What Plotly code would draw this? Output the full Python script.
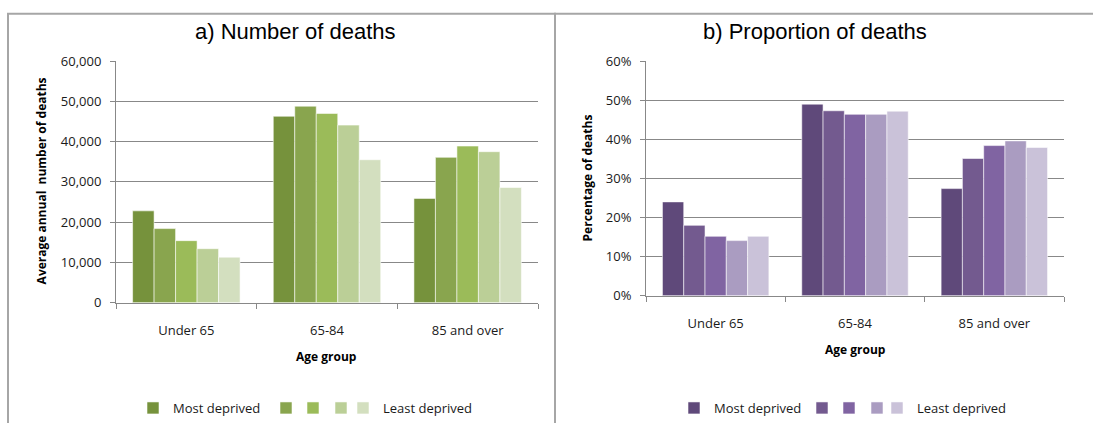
import plotly.graph_objects as go

W, H = 1093, 423

age_groups = ["Under 65", "65-84", "85 and over"]
quintile_names = ["Most deprived", "", "", "", "Least deprived"]

# a) Number of deaths (average annual), one list per deprivation quintile
deaths_q1 = [22800, 46300, 25900]
deaths_q2 = [18400, 48800, 36100]
deaths_q3 = [15400, 47000, 38900]
deaths_q4 = [13400, 44100, 37500]
deaths_q5 = [11300, 35500, 28600]

# b) Proportion of deaths (%)
pct_q1 = [24.0, 49.0, 27.4]
pct_q2 = [18.0, 47.3, 35.1]
pct_q3 = [15.2, 46.4, 38.4]
pct_q4 = [14.1, 46.4, 39.6]
pct_q5 = [15.2, 47.2, 37.9]

y1_ticks = [0, 10000, 20000, 30000, 40000, 50000, 60000]
y2_ticks = [0, 10, 20, 30, 40, 50, 60]
y2_tick_labels = ["0%", "10%", "20%", "30%", "40%", "50%", "60%"]

greens = ["#76923C", "#89A54E", "#9BBB59", "#BBCF97", "#D3DFBF"]
purples = ["#5F497A", "#735A8F", "#8064A2", "#AA9CC1", "#CAC2D9"]

# pixel centres of the legend swatches (layout only)
legend_a_px = [153, 286, 313, 341, 363]
legend_b_px = [694, 822, 849, 877, 897]
LEGEND_Y_PX = 414

FONT = "Open Sans"
GRID = "#888888"


def px_x(p):
    return p / W


def px_y(p):
    return 1 - p / H


fig = go.Figure()

deaths = [deaths_q1, deaths_q2, deaths_q3, deaths_q4, deaths_q5]
pcts = [pct_q1, pct_q2, pct_q3, pct_q4, pct_q5]

legend_ids = ["legend"] + [f"legend{k}" for k in range(2, 11)]

for i, (name, vals) in enumerate(zip(quintile_names, deaths)):
    fig.add_trace(go.Bar(
        x=age_groups, y=vals, name=name, xaxis="x", yaxis="y", showlegend=True,
        marker=dict(color=greens[i], line=dict(color="rgba(255,255,255,0.55)", width=1)),
        legend=legend_ids[i],
    ))

for i, (name, vals) in enumerate(zip(quintile_names, pcts)):
    fig.add_trace(go.Bar(
        x=age_groups, y=vals, name=name, xaxis="x2", yaxis="y2", showlegend=True,
        marker=dict(color=purples[i], line=dict(color="rgba(255,255,255,0.55)", width=1)),
        legend=legend_ids[5 + i],
    ))

axis_common = dict(
    showline=True, linecolor=GRID, linewidth=1,
    ticks="outside", ticklen=5, tickcolor=GRID, automargin=False,
    tickfont=dict(family=FONT, size=13, color="#1a1a1a"),
)

legend_layout = {}
for k, cx in enumerate(legend_a_px + legend_b_px):
    legend_layout[legend_ids[k]] = dict(
        orientation="h", x=px_x(cx - 20), xanchor="left",
        y=px_y(LEGEND_Y_PX), yanchor="middle",
        font=dict(family=FONT, size=13, color="#1a1a1a"),
        bgcolor="rgba(0,0,0,0)", itemwidth=30, borderwidth=0,
    )

fig.update_layout(
    width=W, height=H,
    margin=dict(l=0, r=0, t=0, b=0),
    paper_bgcolor="white", plot_bgcolor="white",
    showlegend=True,
    barmode="group", bargap=0.236, bargroupgap=0,
    font=dict(family=FONT, color="#1a1a1a"),
    xaxis=dict(domain=[px_x(116), px_x(538)], type="category",
               tickson="boundaries", ticklabelstandoff=16, anchor="y", **axis_common),
    yaxis=dict(domain=[px_y(307), px_y(62)], range=[0, 60000], tickvals=y1_ticks,
               tickformat=",", showgrid=True, gridcolor=GRID, gridwidth=1,
               anchor="x", zeroline=False, ticklabelstandoff=6, **axis_common),
    xaxis2=dict(domain=[px_x(646), px_x(1064)], type="category",
                tickson="boundaries", ticklabelstandoff=16, anchor="y2", **axis_common),
    yaxis2=dict(domain=[px_y(300), px_y(62)], range=[0, 60], tickvals=y2_ticks,
                ticktext=y2_tick_labels, showgrid=True, gridcolor=GRID, gridwidth=1,
                anchor="x2", zeroline=False, ticklabelstandoff=6, **axis_common),
    shapes=[
        dict(type="rect", xref="paper", yref="paper",
             x0=px_x(8), x1=px_x(555), y0=px_y(440), y1=px_y(14),
             line=dict(color="#A6A6A6", width=2), layer="below"),
        dict(type="rect", xref="paper", yref="paper",
             x0=px_x(555), x1=px_x(1110), y0=px_y(440), y1=px_y(14),
             line=dict(color="#A6A6A6", width=2), layer="below"),
    ],
    annotations=[
        dict(text="a) Number of deaths", x=px_x(295), y=px_y(32), xref="paper", yref="paper",
             showarrow=False, font=dict(family="Liberation Sans", size=22, color="black"),
             xanchor="center", yanchor="middle"),
        dict(text="b) Proportion of deaths", x=px_x(815), y=px_y(32), xref="paper", yref="paper",
             showarrow=False, font=dict(family="Liberation Sans", size=22, color="black"),
             xanchor="center", yanchor="middle"),
        dict(text="<b>Average annual  number of deaths</b>", x=px_x(41), y=px_y(184),
             xref="paper", yref="paper", showarrow=False, textangle=-90,
             font=dict(family=FONT, size=12, color="black"), xanchor="center", yanchor="middle"),
        dict(text="<b>Percentage of deaths</b>", x=px_x(587), y=px_y(181),
             xref="paper", yref="paper", showarrow=False, textangle=-90,
             font=dict(family=FONT, size=12, color="black"), xanchor="center", yanchor="middle"),
        dict(text="<b>Age group</b>", x=px_x(326), y=px_y(362), xref="paper", yref="paper",
             showarrow=False, font=dict(family=FONT, size=12, color="black"),
             xanchor="center", yanchor="middle"),
        dict(text="<b>Age group</b>", x=px_x(855), y=px_y(355), xref="paper", yref="paper",
             showarrow=False, font=dict(family=FONT, size=12, color="black"),
             xanchor="center", yanchor="middle"),
    ],
    **legend_layout,
)

fig.write_html(
    "out.html",
    config={"displayModeBar": False},
    post_script="document.body.style.margin='0';document.body.style.overflow='hidden';",
)
